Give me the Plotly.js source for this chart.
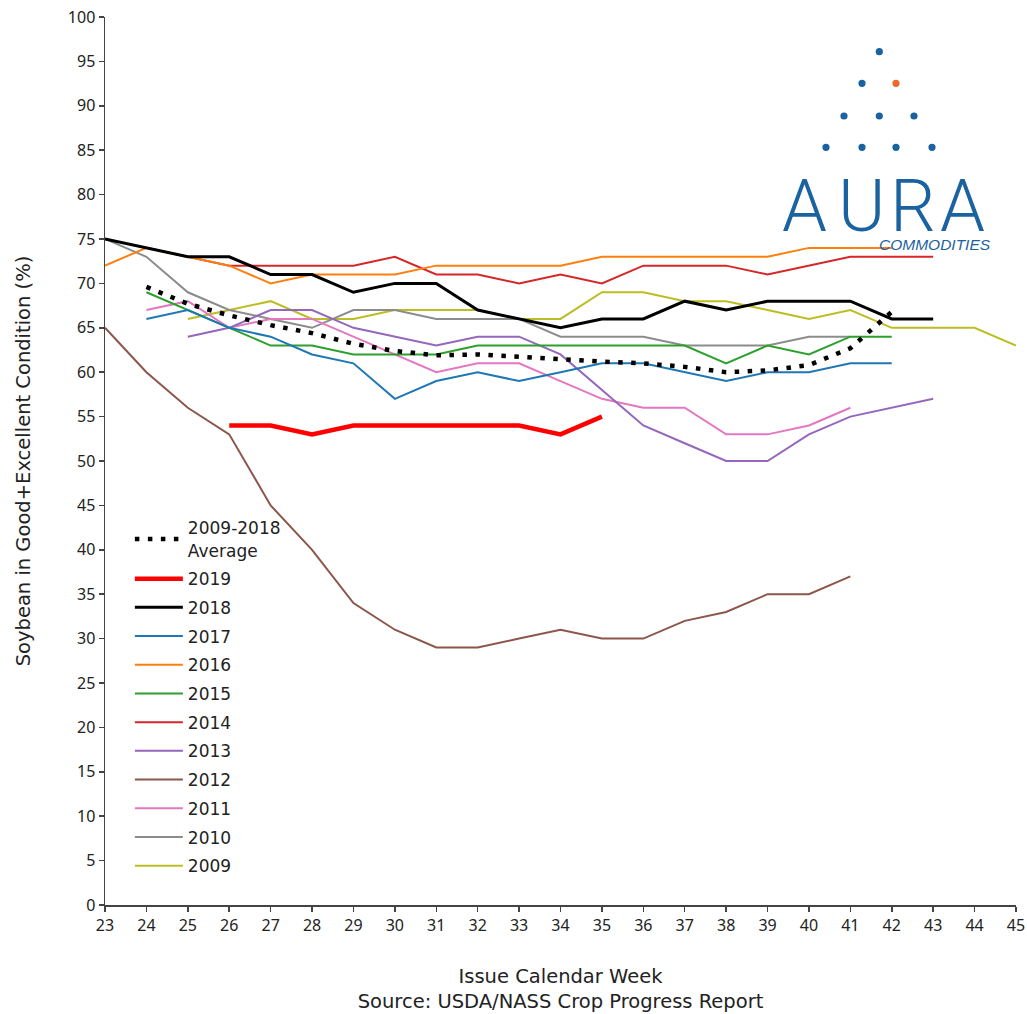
<!DOCTYPE html>
<html>
<head>
<meta charset="utf-8">
<script src="https://cdn.plot.ly/plotly-3.0.1.min.js"></script>
<style>html,body{margin:0;padding:0;background:#fff;}#chart{width:1027px;height:1014px;}</style>
</head>
<body>
<div id="chart"></div>
<script>
// ---- data ----
const weeksAvg = [24,25,26,27,28,29,30,31,32,33,34,35,36,37,38,39,40,41,42];
const avg0918 = [69.6,67.7,66.4,65.3,64.4,63.2,62.4,61.9,62.0,61.7,61.4,61.2,61.0,60.6,60.0,60.2,60.8,62.7,66.8];

const weeks2019 = [26,27,28,29,30,31,32,33,34,35];
const y2019 = [54,54,53,54,54,54,54,54,53,55];

const weeks2018 = [23,24,25,26,27,28,29,30,31,32,33,34,35,36,37,38,39,40,41,42,43];
const y2018 = [75,74,73,73,71,71,69,70,70,67,66,65,66,66,68,67,68,68,68,66,66];

const weeks2017 = [24,25,26,27,28,29,30,31,32,33,34,35,36,37,38,39,40,41,42];
const y2017 = [66,67,65,64,62,61,57,59,60,59,60,61,61,60,59,60,60,61,61];

const weeks2016 = [23,24,25,26,27,28,29,30,31,32,33,34,35,36,37,38,39,40,41,42];
const y2016 = [72,74,73,72,70,71,71,71,72,72,72,72,73,73,73,73,73,74,74,74];

const weeks2015 = [24,25,26,27,28,29,30,31,32,33,34,35,36,37,38,39,40,41,42];
const y2015 = [69,67,65,63,63,62,62,62,63,63,63,63,63,63,61,63,62,64,64];

const weeks2014 = [24,25,26,27,28,29,30,31,32,33,34,35,36,37,38,39,40,41,42,43];
const y2014 = [74,73,72,72,72,72,73,71,71,70,71,70,72,72,72,71,72,73,73,73];

const weeks2013 = [25,26,27,28,29,30,31,32,33,34,35,36,37,38,39,40,41,42,43];
const y2013 = [64,65,67,67,65,64,63,64,64,62,58,54,52,50,50,53,55,56,57];

const weeks2012 = [23,24,25,26,27,28,29,30,31,32,33,34,35,36,37,38,39,40,41];
const y2012 = [65,60,56,53,45,40,34,31,29,29,30,31,30,30,32,33,35,35,37];

const weeks2011 = [24,25,26,27,28,29,30,31,32,33,34,35,36,37,38,39,40,41];
const y2011 = [67,68,65,66,66,64,62,60,61,61,59,57,56,56,53,53,54,56];

const weeks2010 = [23,24,25,26,27,28,29,30,31,32,33,34,35,36,37,38,39,40,41];
const y2010 = [75,73,69,67,66,65,67,67,66,66,66,64,64,64,63,63,63,64,64];

const weeks2009 = [25,26,27,28,29,30,31,32,33,34,35,36,37,38,39,40,41,42,43,44,45];
const y2009 = [66,67,68,66,66,67,67,67,66,66,69,69,68,68,67,66,67,65,65,65,63];

const xTicks = [23,24,25,26,27,28,29,30,31,32,33,34,35,36,37,38,39,40,41,42,43,44,45];
const yTicks = [0,5,10,15,20,25,30,35,40,45,50,55,60,65,70,75,80,85,90,95,100];

// ---- traces ----
function line(name, x, y, color, width, rank, dash) {
  return {type:'scatter', mode:'lines', name:name, x:x, y:y,
    line:{color:color, width:width, dash:dash||'solid'},
    legendrank:rank, legendgroup:'g'+rank, hoverinfo:'skip'};
}
const traces = [
  line('2009', weeks2009, y2009, '#bcbd22', 2, 12),
  line('2010', weeks2010, y2010, '#8c8c8c', 2, 11),
  line('2011', weeks2011, y2011, '#e377c2', 2, 10),
  line('2012', weeks2012, y2012, '#8c564b', 2, 9),
  line('2013', weeks2013, y2013, '#9467bd', 2, 8),
  line('2014', weeks2014, y2014, '#d62728', 2, 7),
  line('2015', weeks2015, y2015, '#2ca02c', 2, 6),
  line('2016', weeks2016, y2016, '#ff7f0e', 2, 5),
  line('2017', weeks2017, y2017, '#1f77b4', 2, 4),
  line('2018', weeks2018, y2018, '#000000', 3, 3),
  line('2009-2018<br>Average', weeksAvg, avg0918, '#000000', 4.5, 1, '4.5px,8.5px'),
  line('2019', weeks2019, y2019, '#ff0000', 4.5, 2)
];

// ---- logo (pixel helpers) ----
const L = 105, R = 1016, T = 17, B = 905;
const px = v => (v - L) / (R - L);
const py = v => (B - v) / (B - T);
const logoBlue = '#1b62a0';
const dotPos = [[879.3,51.7,logoBlue],[862,83.3,logoBlue],[896,83.3,'#ec6a2c'],
  [844,116,logoBlue],[879.3,116,logoBlue],[914,116,logoBlue],
  [826,147.3,logoBlue],[862,147.3,logoBlue],[896,147.3,logoBlue],[932,147.3,logoBlue]];
const shapes = dotPos.map(d => ({type:'circle', xref:'paper', yref:'paper',
  xsizemode:'pixel', ysizemode:'pixel', xanchor:px(d[0]), yanchor:py(d[1]),
  x0:-3.6, x1:3.6, y0:-3.6, y1:3.6, fillcolor:d[2], line:{width:0}, layer:'above'}));

const letters = [['A',804],['U',861],['R',913],['A',962]];
const annotations = letters.map(l => ({text:l[0], xref:'paper', yref:'paper',
  x:px(l[1]), y:py(206), xanchor:'center', yanchor:'middle', showarrow:false,
  font:{family:'Roboto', size:72, color:logoBlue, weight:300}}));
annotations.push({text:'COMMODITIES', xref:'paper', yref:'paper', x:px(935), y:py(244),
  xanchor:'center', yanchor:'middle', showarrow:false, bgcolor:'rgba(255,255,255,0)',
  font:{family:'Liberation Sans', size:15.5, color:logoBlue, style:'italic'}});

const layout = {
  width:1027, height:1014,
  margin:{l:L, r:1027-R, t:T, b:1014-B},
  paper_bgcolor:'#ffffff', plot_bgcolor:'#ffffff',
  font:{family:'Noto Sans, DejaVu Sans, sans-serif', color:'#222222', size:15},
  showlegend:true,
  legend:{x:0.0273, y:0.4445, xanchor:'left', yanchor:'top', bgcolor:'rgba(0,0,0,0)',
    traceorder:'grouped', tracegroupgap:3.6, itemwidth:48,
    font:{family:'DejaVu Sans, sans-serif', size:17, color:'#222222'}},
  xaxis:{range:[23,45], tickmode:'array', tickvals:xTicks, ticktext:xTicks.map(String),
    showgrid:false, zeroline:false, showline:true, linecolor:'#444444', linewidth:1.5,
    ticks:'outside', ticklen:5, tickwidth:1.5, tickcolor:'#444444',
    tickfont:{family:'Noto Sans, sans-serif', size:16, color:'#222222'},
    title:{text:'Issue Calendar Week<br>Source: USDA/NASS Crop Progress Report', standoff:34,
      font:{family:'DejaVu Sans, sans-serif', size:19.5, color:'#222222'}}},
  yaxis:{range:[0,100], tickmode:'array', tickvals:yTicks, ticktext:yTicks.map(String),
    showgrid:false, zeroline:false, showline:true, linecolor:'#444444', linewidth:1.5,
    ticks:'outside', ticklen:5, tickwidth:1.5, tickcolor:'#444444',
    tickfont:{family:'Noto Sans, sans-serif', size:16, color:'#222222'},
    title:{text:'Soybean in Good+Excellent Condition (%)', standoff:32,
      font:{family:'DejaVu Sans, sans-serif', size:19.5, color:'#222222'}}},
  shapes:shapes,
  annotations:annotations
};

Plotly.newPlot('chart', traces, layout, {staticPlot:true, displayModeBar:false});
</script>
</body>
</html>
